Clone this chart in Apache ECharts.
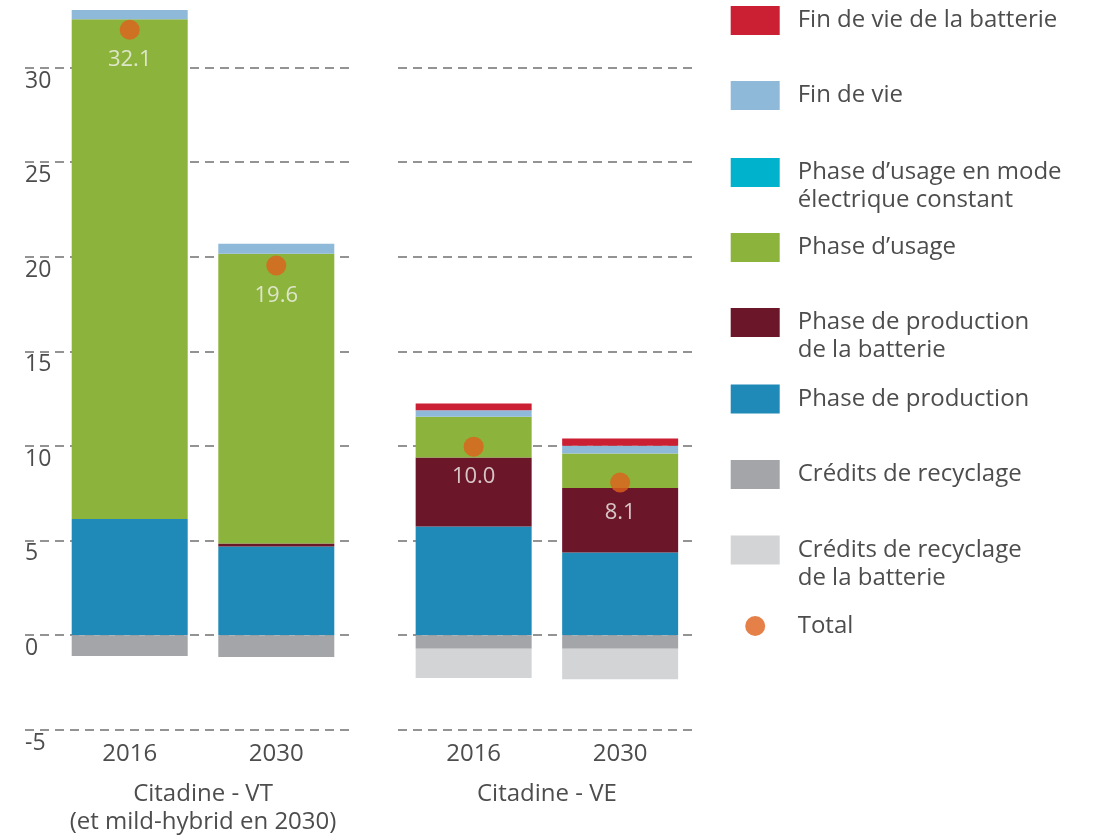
<!DOCTYPE html>
<html>
<head>
<meta charset="utf-8">
<title>Citadine VT / VE</title>
<script src="https://cdn.jsdelivr.net/npm/echarts@6/dist/echarts.min.js"></script>
<style>
  html, body { margin: 0; padding: 0; background: #fff; }
  #chart { width: 1107px; height: 835px; }
</style>
</head>
<body>
<div id="chart"></div>
<script>
// données : [VT 2016, VT 2030, VE 2016, VE 2030]
const categories = ["2016", "2030"];
const groupNames = ["Citadine - VT\n(et mild-hybrid en 2030)", "Citadine - VE"];
const production = [6.17, 4.7, 5.76, 4.39];
const productionBatterie = [0, 0.17, 3.66, 3.42];
const usageElectrique = [0, 0, 0, 0];
const usage = [26.48, 15.36, 2.17, 1.83];
const finDeVie = [0.49, 0.52, 0.34, 0.4];
const finDeVieBatterie = [0, 0, 0.35, 0.39];
const creditsRecyclage = [-1.1, -1.15, -0.72, -0.72];
const creditsBatterie = [0, 0, -1.54, -1.61];
const totals = [32.1, 19.6, 10.0, 8.1];

const FONT = "Open Sans";
const TEXT = "#4d4d4d";

// ordre d'empilement (du bas vers le haut)
const stackDefs = [
  { name: "Phase de production", data: production, color: "#1f8ab8" },
  { name: "Phase de production\nde la batterie", data: productionBatterie, color: "#6b1629" },
  { name: "Phase d\u2019usage en mode\n\u00e9lectrique constant", data: usageElectrique, color: "#00b2cb" },
  { name: "Phase d\u2019usage", data: usage, color: "#8cb33c" },
  { name: "Fin de vie", data: finDeVie, color: "#8fb9d9" },
  { name: "Fin de vie de la batterie", data: finDeVieBatterie, color: "#cb1f33" },
  { name: "Cr\u00e9dits de recyclage", data: creditsRecyclage, color: "#a4a5a9" },
  { name: "Cr\u00e9dits de recyclage\nde la batterie", data: creditsBatterie, color: "#d3d4d6" },
];

// ordre de la légende (de haut en bas) + position verticale
const legendItems = [
  { name: "Fin de vie de la batterie", top: 1 },
  { name: "Fin de vie", top: 76 },
  { name: "Phase d\u2019usage en mode\n\u00e9lectrique constant", top: 125.5, two: true },
  { name: "Phase d\u2019usage", top: 228 },
  { name: "Phase de production\nde la batterie", top: 275.5, two: true },
  { name: "Phase de production", top: 379.5 },
  { name: "Cr\u00e9dits de recyclage", top: 455 },
  { name: "Cr\u00e9dits de recyclage\nde la batterie", top: 503, two: true },
];

function makeSeries(g) {
  const from = g * 2;
  const list = stackDefs.map((d) => ({
    name: d.name,
    type: "bar",
    stack: "total" + g,
    xAxisIndex: g,
    yAxisIndex: g,
    barWidth: 116,
    data: d.data.slice(from, from + 2),
    itemStyle: { color: d.color },
  }));
  list.push({
    name: "Total",
    type: "scatter",
    xAxisIndex: g,
    yAxisIndex: g,
    symbolSize: 20,
    z: 5,
    itemStyle: { color: "#e0601c" },
    data: totals.slice(from, from + 2),
    label: {
      show: true,
      position: "bottom",
      distance: 9,
      color: "#f3f3ee",
      fontFamily: FONT,
      fontSize: 22,
      formatter: (p) => p.value.toFixed(1),
    },
  });
  return list;
}

// une légende par entrée pour garder l'espacement du modèle
const legends = legendItems.map((it) => ({
  data: [it.name],
  left: 725.7,
  top: it.top,
  icon: "rect",
  itemWidth: 49,
  itemHeight: 29,
  selectedMode: false,
  // ligne vide en tête : la 1re ligne reste alignée sur le carré
  formatter: it.two ? (name) => "\n" + name : "{name}",
  textStyle: {
    color: TEXT,
    fontFamily: FONT,
    fontSize: 24,
    lineHeight: 28,
    padding: [0, 0, 0, 13],
  },
}));
legends.push({
  data: ["Total"],
  left: 740.2,
  top: 607,
  icon: "circle",
  itemWidth: 49,
  itemHeight: 20,
  selectedMode: false,
  textStyle: { color: TEXT, fontFamily: FONT, fontSize: 24, lineHeight: 28, padding: [0, 0, 0, 13] },
});

// axe des catégories de chaque groupe
function barXAxis(g) {
  return {
    type: "category",
    gridIndex: g,
    data: categories,
    axisLine: { show: false },
    axisTick: { show: false },
    axisLabel: { color: TEXT, fontFamily: FONT, fontSize: 24, lineHeight: 24, margin: 13 },
    name: groupNames[g],
    nameLocation: "middle",
    nameGap: 51,
    nameTextStyle: { color: TEXT, fontFamily: FONT, fontSize: 24, lineHeight: 28 },
  };
}

// axe Y invisible des barres (même échelle que la grille de fond)
function barYAxis(g) {
  return { type: "value", gridIndex: g, min: -5, max: 33.5, show: false };
}

// grilles de fond avec les lignes pointillées
function bgYAxis(g, showLabel) {
  return {
    type: "value",
    gridIndex: g,
    min: -5,
    max: 30,
    interval: 5,
    axisLine: { show: false },
    axisTick: { show: false },
    axisLabel: {
      show: showLabel,
      color: TEXT,
      fontFamily: FONT,
      fontSize: 23,
      lineHeight: 23,
      align: "left",
      verticalAlign: "top",
      margin: 0,
      padding: [2, 0, 0, 0],
    },
    splitLine: { lineStyle: { color: "#939393", width: 2, type: [9, 6] } },
  };
}

const myChart = echarts.init(document.getElementById("chart"));
myChart.setOption({
  animation: false,
  textStyle: { fontFamily: FONT },
  grid: [
    { left: 56.4, top: 3.3, width: 293.2, height: 726.3, outerBoundsMode: "none" },
    { left: 400.4, top: 3.3, width: 293, height: 726.3, outerBoundsMode: "none" },
    { left: 25, top: 67.5, width: 329, height: 662.1, outerBoundsMode: "none" },
    { left: 398, top: 67.5, width: 295.5, height: 662.1, outerBoundsMode: "none" },
  ],
  xAxis: [
    barXAxis(0),
    barXAxis(1),
    { type: "value", gridIndex: 2, show: false },
    { type: "value", gridIndex: 3, show: false },
  ],
  yAxis: [barYAxis(0), barYAxis(1), bgYAxis(2, true), bgYAxis(3, false)],
  legend: legends,
  series: makeSeries(0).concat(makeSeries(1)),
});
</script>
</body>
</html>
